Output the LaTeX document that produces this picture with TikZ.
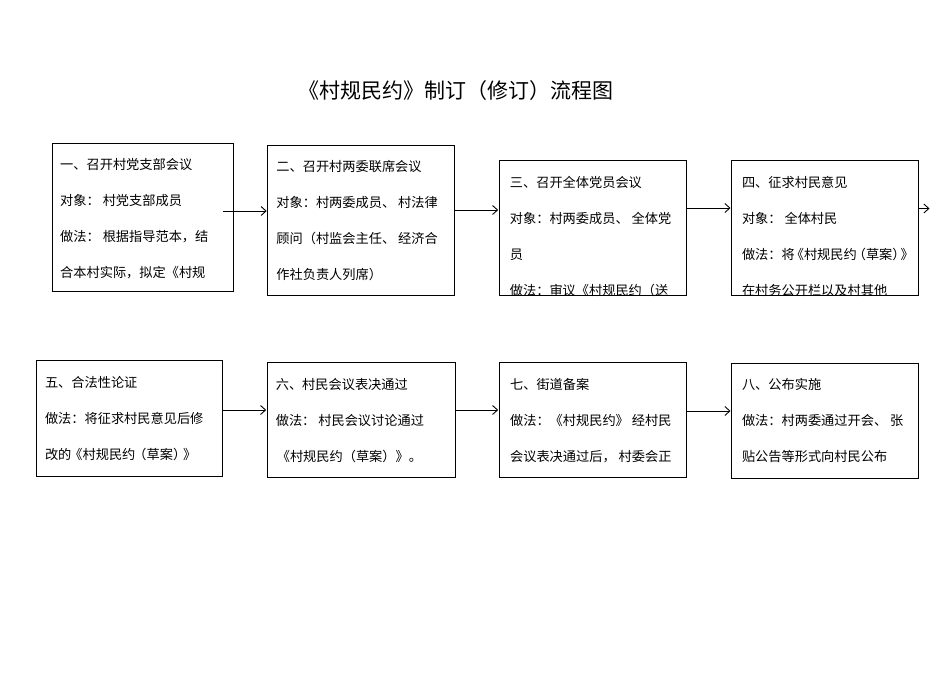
\documentclass[tikz,border=0pt]{standalone}
\usepackage{fontspec}
\setmainfont{Noto Sans CJK SC}
\usetikzlibrary{arrows.meta}

\begin{document}
\begin{tikzpicture}[x=1pt, y=-1pt,
  box/.style={draw, line width=1pt, inner sep=0pt, outer sep=0pt},
  txt/.style={anchor=north west, inner sep=0pt, align=left, font=\fontsize{13.2}{36}\selectfont},
  arr/.style={-{Straight Barb[length=5pt,width=9pt]}, line width=0.9pt}]
  \useasboundingbox (0,0) rectangle (950,672);

  \node[font=\fontsize{21}{21}\selectfont] (title) at (455.5,91) {《村规民约》制订（修订）流程图};

  % Row 1: meetings and consultation
  \node[box, minimum width=181pt, minimum height=148pt] (b1) at (142.5,217) {};
  \node[box, minimum width=187pt, minimum height=150pt] (b2) at (361.2,220.5) {};
  \node[box, minimum width=187pt, minimum height=135pt] (b3) at (592.7,227.5) {};
  \node[box, minimum width=187pt, minimum height=135pt] (b4) at (825,227.5) {};

  \node[txt] (t1) at ([shift={(8,15.4)}]b1.north west)
    {一、召开村党支部会议\\对象：\ 村党支部成员\\做法：\ 根据指导范本，结\\合本村实际，拟定《村规};
  \node[txt] (t2) at ([shift={(8.5,15)}]b2.north west)
    {二、召开村两委联席会议\\对象：村两委成员、\ 村法律\\顾问（村监会主任、\ 经济合\\作社负责人列席）};
  \node[txt] (t3) at ([shift={(10.5,16.4)}]b3.north west)
    {三、召开全体党员会议\\对象：村两委成员、\ 全体党\\员\\做法：审议《村规民约（送};
  \node[txt] (t4) at ([shift={(10.3,16.4)}]b4.north west)
    {四、征求村民意见\\对象：\ 全体村民\\做法：将\kern-4pt《村规民约\kern-4pt（草案）\kern-5pt》\\在村务公开栏以及村其他};

  % Row 2: review, vote, filing, publication
  \node[box, minimum width=186pt, minimum height=116pt] (b5) at (129.5,418) {};
  \node[box, minimum width=188pt, minimum height=115pt] (b6) at (361.2,420) {};
  \node[box, minimum width=187pt, minimum height=115pt] (b7) at (592.7,420) {};
  \node[box, minimum width=187pt, minimum height=115pt] (b8) at (825,421) {};

  \node[txt] (t5) at ([shift={(8.3,16.4)}]b5.north west)
    {五、合法性论证\\做法：将征求村民意见后修\\改的\kern-2pt《村规民约\kern-2pt（草案）\kern-3pt》};
  \node[txt] (t6) at ([shift={(8.4,16)}]b6.north west)
    {六、村民会议表决通过\\做法：\ 村民会议讨论通过\\\kern1pt《村规民约（草案）》。};
  \node[txt] (t7) at ([shift={(10.7,15.7)}]b7.north west)
    {七、街道备案\\做法：《村规民约》\ 经村民\\会议表决通过后，\ 村委会正};
  \node[txt] (t8) at ([shift={(10.3,15)}]b8.north west)
    {八、公布实施\\做法：村两委通过开会、\ 张\\贴公告等形式向村民公布};

  % Arrows
  \coordinate (out) at ([shift={(11,-19)}]b4.east);
  \draw[arr] ([shift={(-10,-6)}]b1.east) -- ([shift={(-1,-9.5)}]b2.west);
  \draw[arr] ([shift={(0,-10.5)}]b2.east) -- ([shift={(-1,-17.5)}]b3.west);
  \draw[arr] ([shift={(0,-19.5)}]b3.east) -- ([shift={(-1,-19.5)}]b4.west);
  \draw[arr] ([shift={(0,-19)}]b4.east) -- (out);
  \draw[arr] ([shift={(0,-8)}]b5.east) -- ([shift={(-1,-10)}]b6.west);
  \draw[arr] ([shift={(0,-10)}]b6.east) -- ([shift={(-1,-10)}]b7.west);
  \draw[arr] ([shift={(0,-9)}]b7.east) -- ([shift={(-1,-10)}]b8.west);
\end{tikzpicture}
\end{document}
